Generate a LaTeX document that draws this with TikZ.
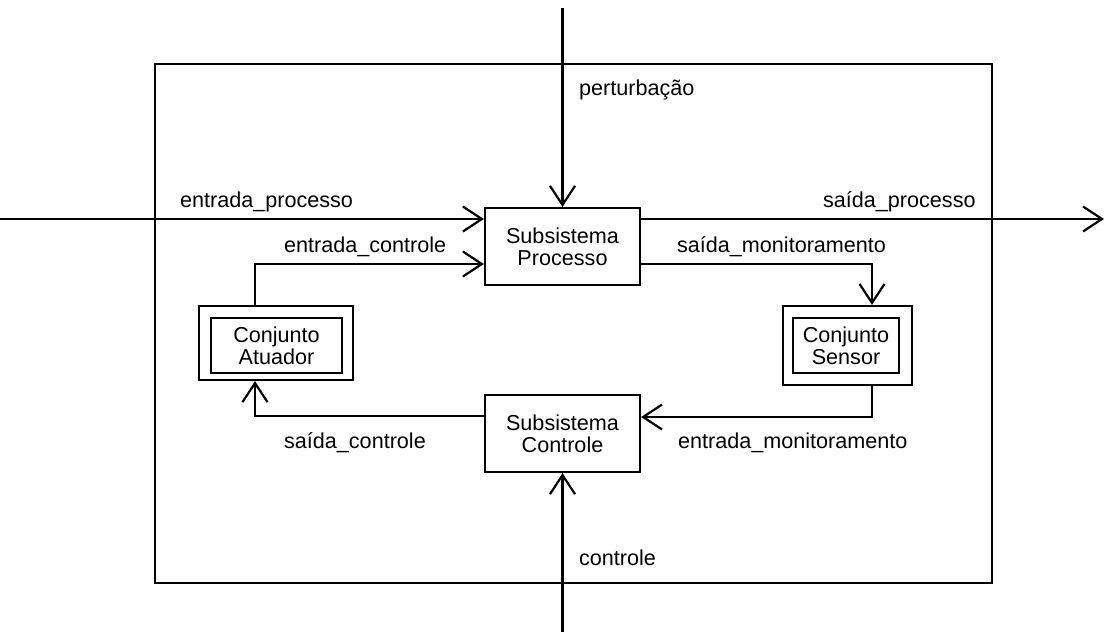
\documentclass[tikz,border=0pt]{standalone}
\usepackage{fontspec}
\setmainfont{Liberation Sans}
\usetikzlibrary{arrows.meta}
\begin{document}
\begin{tikzpicture}[x=1pt,y=-1pt,
  line width=2.2pt,
  every node/.style={font=\fontsize{21.6}{22}\selectfont},
  blk/.style={draw,rectangle,align=center,inner sep=0pt,minimum width=155pt,minimum height=77pt},
  outerbox/.style={draw,rectangle,inner sep=0pt},
  innerbox/.style={draw,rectangle,align=center,inner sep=0pt},
  lbl/.style={anchor=base west,inner sep=0pt},
  flow/.style={-{Straight Barb[length=19pt,width=25pt,line width=2.2pt]}}]
\useasboundingbox (0,0) rectangle (1106,632);

% system boundary
\node[draw,rectangle,line width=1.6pt,minimum width=837pt,minimum height=519pt,inner sep=0pt] (sys) at (573.5,323.5) {};

% subsystems
\node[blk] (proc) at (562.5,246.5) {Subsistema\\Processo};
\node[blk] (ctrl) at (562.5,433.5) {Subsistema\\Controle};

% actuator and sensor sets (double frames)
\node[outerbox,minimum width=154pt,minimum height=74pt] (atu) at (276,343) {};
\node[innerbox,minimum width=131pt,minimum height=55pt] (atui) at (276.5,345.5) {Conjunto\\Atuador};
\node[outerbox,minimum width=129pt,minimum height=79pt] (sen) at (847.5,345.5) {};
\node[innerbox,minimum width=106pt,minimum height=55pt] (seni) at (846,345.5) {Conjunto\\Sensor};

% helper coordinates
\coordinate (top) at (562.5,8);
\coordinate (bot) at (562.5,632);
\coordinate (pin) at (0,219);
\coordinate (pout) at (1104,219);
\coordinate (cin) at (255,264);
\coordinate (mon) at (872,264);
\coordinate (mret) at (872,417);
\coordinate (cret) at (255,416);

% connectors
\draw[flow] (top) -- (proc.north);
\draw[flow] (pin) -- (pin -| proc.west);
\draw[flow] (pin -| proc.east) -- (pout);
\draw[flow] (cin |- atu.north) -- (cin) -- (cin -| proc.west);
\draw[flow] (mon -| proc.east) -- (mon) -- (mon |- sen.north);
\draw[flow] (mon |- sen.south) -- (mret) -- (mret -| ctrl.east);
\draw[flow] (cret -| ctrl.west) -- (cret) -- (cret |- atu.south);
\draw[flow] (bot) -- (ctrl.south);

% labels
\node[lbl] (l1) at (578,95) {perturbação};
\node[lbl] (l2) at (179,207) {entrada\_processo};
\node[lbl] (l3) at (822,207) {saída\_processo};
\node[lbl] (l4) at (283,252) {entrada\_controle};
\node[lbl] (l5) at (676,252) {saída\_monitoramento};
\node[lbl] (l6) at (283,448) {saída\_controle};
\node[lbl] (l7) at (677,448) {entrada\_monitoramento};
\node[lbl] (l8) at (578,565) {controle};
\end{tikzpicture}
\end{document}
